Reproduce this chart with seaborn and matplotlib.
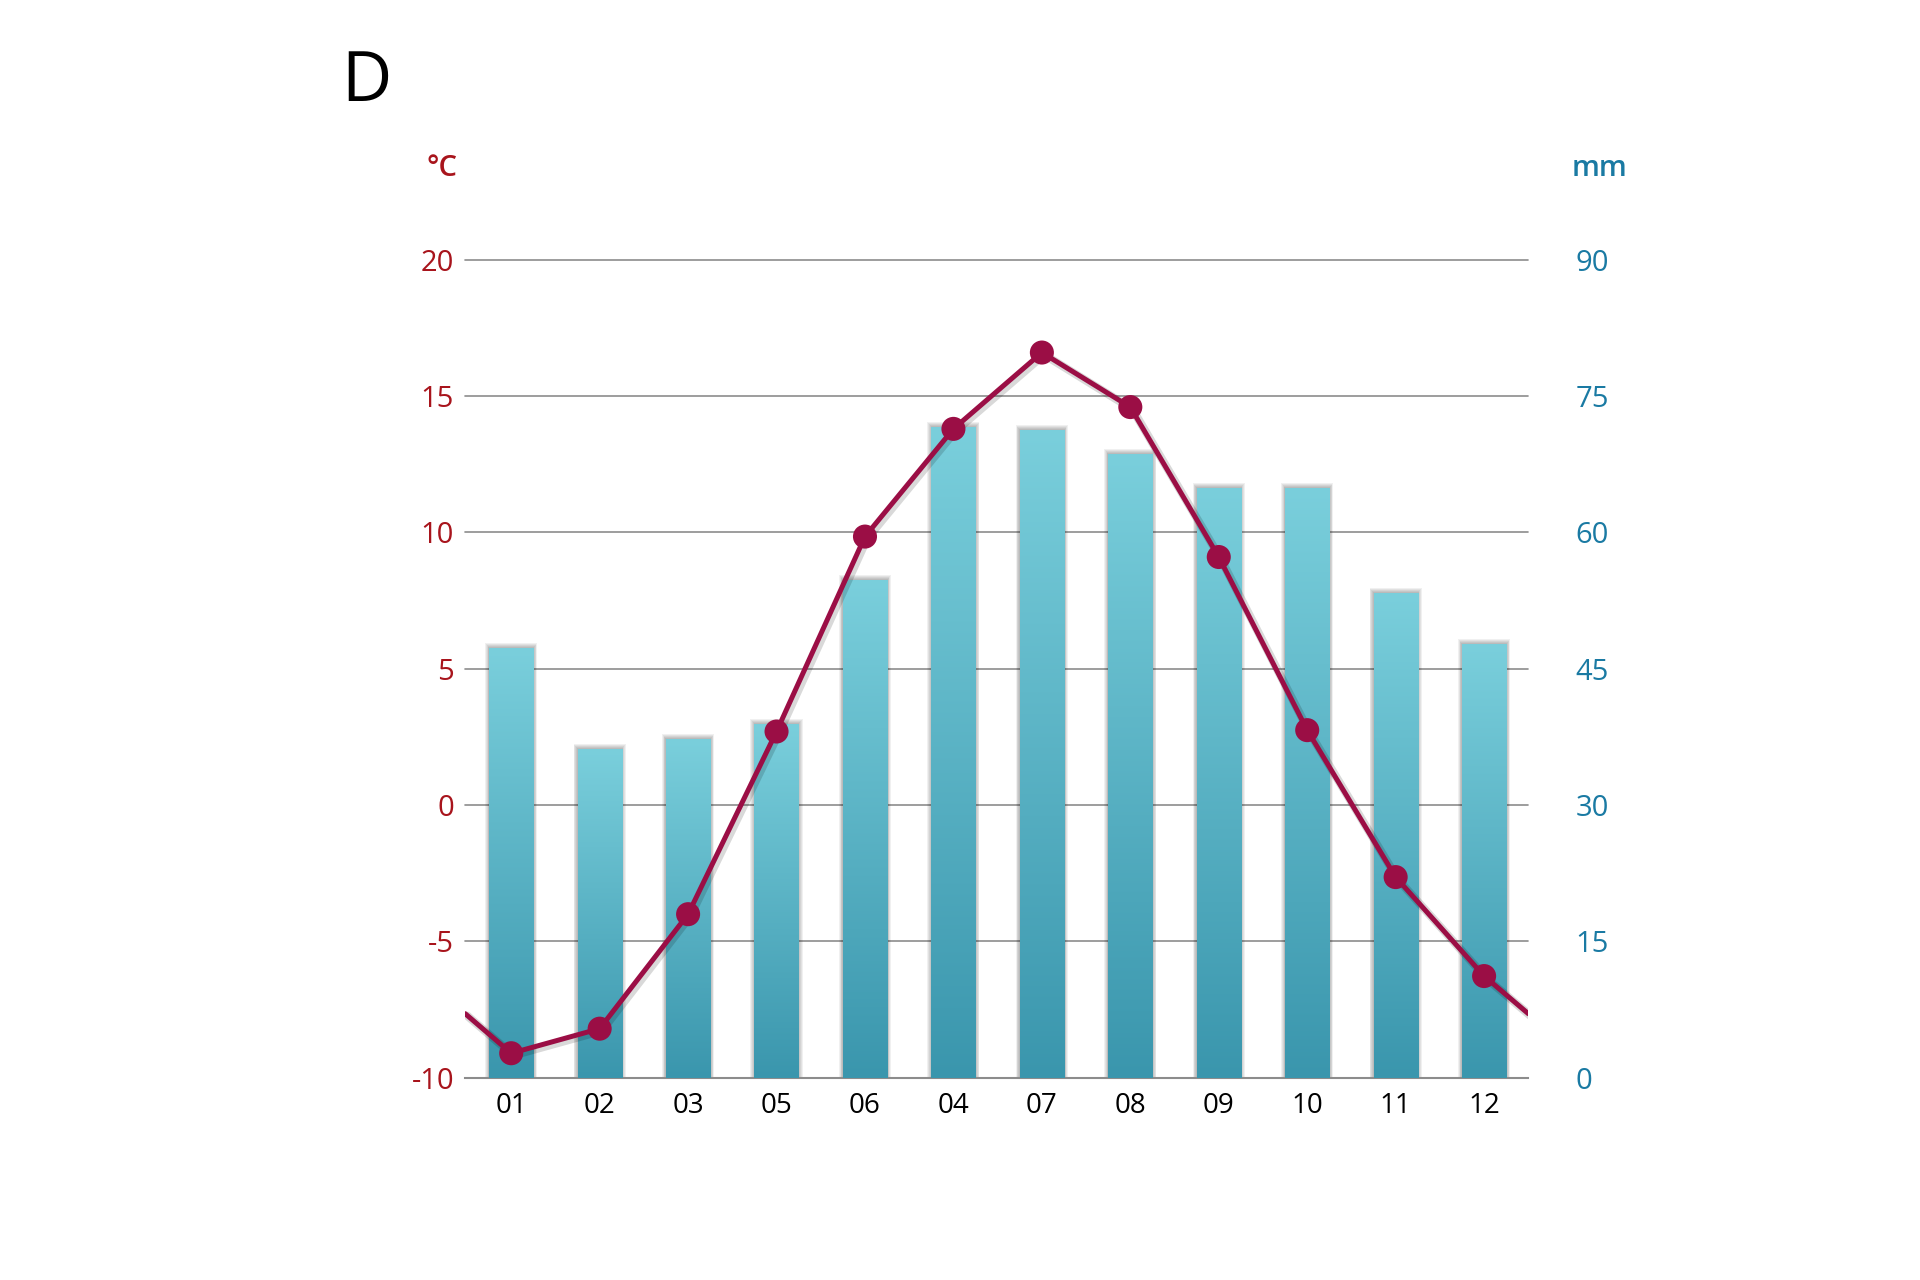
import numpy as np
import pandas as pd
import matplotlib
matplotlib.use("Agg")
import matplotlib.pyplot as plt
import matplotlib.patheffects as pe
from matplotlib.patches import Rectangle
import seaborn as sns

# ---- data ----
months = ["01", "02", "03", "05", "06", "04", "07", "08", "09", "10", "11", "12"]
precip_mm = [47.3, 36.2, 37.3, 38.9, 54.8, 71.6, 71.3, 68.6, 64.9, 64.9, 53.3, 47.7]
temp_c = [-9.1, -8.2, -4.0, 2.7, 9.85, 13.8, 16.6, 14.6, 9.1, 2.75, -2.64, -6.27]
edge_temp = -7.65  # value where the temperature line meets the plot edges
temp_ticks = [-10, -5, 0, 5, 10, 15, 20]
mm_ticks = [0, 15, 30, 45, 60, 75, 90]

RED = "#a8141c"
BLUE = "#1a7aa3"
LINE = "#9b0e45"
GRID = "#8c8c8c"

sns.set_theme(style="white")
plt.rcParams["font.family"] = ["Open Sans", "DejaVu Sans"]

fig = plt.figure(figsize=(19.2, 12.8), dpi=100)
ax = fig.add_axes([0.2423, 0.158, 0.5537, 0.639])  # temperature (left)
ax2 = ax.twinx()                                    # precipitation (right)
ax.set_zorder(2)
ax2.set_zorder(1)
ax.patch.set_visible(False)

df = pd.DataFrame({"month": months, "mm": precip_mm, "temp": temp_c})

XL = (-0.52, 11.5)

# ---- bars on ax2 ----
sns.barplot(data=df, x="month", y="mm", ax=ax2, width=0.5, color="#5ab4c8",
            saturation=1, zorder=3, linewidth=0, edgecolor="none")
ax2.set_ylim(0, 90)
ax2.set_xlim(*XL)

grad = np.linspace(0, 1, 256).reshape(-1, 1)
cmap = matplotlib.colors.LinearSegmentedColormap.from_list(
    "bar", ["#3a96ad", "#7acfdc"])
px_x = 0.5 / 45.0      # data units per pixel (x)
px_y = 90.0 / 818.0    # data units per pixel (y)
for p in list(ax2.patches):
    x0, y0 = p.get_x(), p.get_y()
    w, h = p.get_width(), p.get_height()
    # soft shadow
    for k in range(1, 6):
        ax2.add_patch(Rectangle((x0 - k * 0.8 * px_x, y0),
                                w + 2 * k * 0.8 * px_x,
                                h + k * px_y,
                                facecolor="black", edgecolor="none",
                                alpha=0.06, zorder=2))
    im = ax2.imshow(grad, extent=(x0, x0 + w, y0, y0 + h), origin="lower",
                    aspect="auto", cmap=cmap, zorder=3.5, interpolation="bicubic")
    im.set_clip_path(p)
    p.set_facecolor("none")
    p.set_linewidth(0)
ax2.set_xlim(*XL)
ax2.set_ylim(0, 90)

# grid on ax2 (behind bars)
ax2.set_yticks(mm_ticks)
for t in mm_ticks[1:]:
    ax2.axhline(t, color=GRID, lw=1.2, zorder=1, clip_on=False)
ax2.set_ylabel("")
ax2.set_xlabel("")
ax2.tick_params(axis="y", length=0, pad=34, labelsize=21, labelcolor=BLUE)
for lab in ax2.get_yticklabels():
    lab.set_horizontalalignment("left")

# ---- temperature line on ax ----
xpos = np.arange(len(months))
line_df = pd.DataFrame({
    "x": np.concatenate([[XL[0]], xpos, [XL[1]]]),
    "y": np.concatenate([[edge_temp], temp_c, [edge_temp]]),
})
shadow = [pe.SimpleLineShadow(offset=(1.5, -1.5), alpha=0.15, shadow_color="black",
                              linewidth=6),
          pe.Normal()]
sns.lineplot(data=line_df, x="x", y="y", ax=ax, color=LINE, lw=3.6,
             sort=False, path_effects=shadow, zorder=5)
sns.scatterplot(data=df.assign(x=xpos), x="x", y="temp", ax=ax, color=LINE,
                s=300, edgecolor="none", zorder=6)
ax.set_xlim(*XL)
ax.set_ylim(-10, 20)
ax.set_yticks(temp_ticks)
ax.set_yticklabels([str(t) for t in temp_ticks])
ax.set_xticks(xpos)
ax.set_xticklabels(months)
ax.set_xlabel("")
ax.set_ylabel("")
ax.tick_params(axis="y", length=0, pad=8, labelsize=21, labelcolor=RED)
ax.tick_params(axis="x", length=0, pad=10, labelsize=20, labelcolor="black")
ax2.tick_params(axis="x", length=0, labelbottom=False)

for a in (ax, ax2):
    for s in a.spines.values():
        s.set_visible(False)
ax2.spines["bottom"].set_visible(True)
ax2.spines["bottom"].set_color(GRID)
ax2.spines["bottom"].set_linewidth(1.5)

# ---- texts ----
fig.text(0.230, 0.868, "°C", color=RED, fontsize=21, fontweight="semibold",
         ha="center", va="center")
fig.text(0.833, 0.868, "mm", color=BLUE, fontsize=21, fontweight="semibold",
         ha="center", va="center")
fig.text(0.1907, 0.935, "D", color="black", fontsize=50, ha="center", va="center")

fig.savefig("out.png", dpi=100, facecolor="white")
